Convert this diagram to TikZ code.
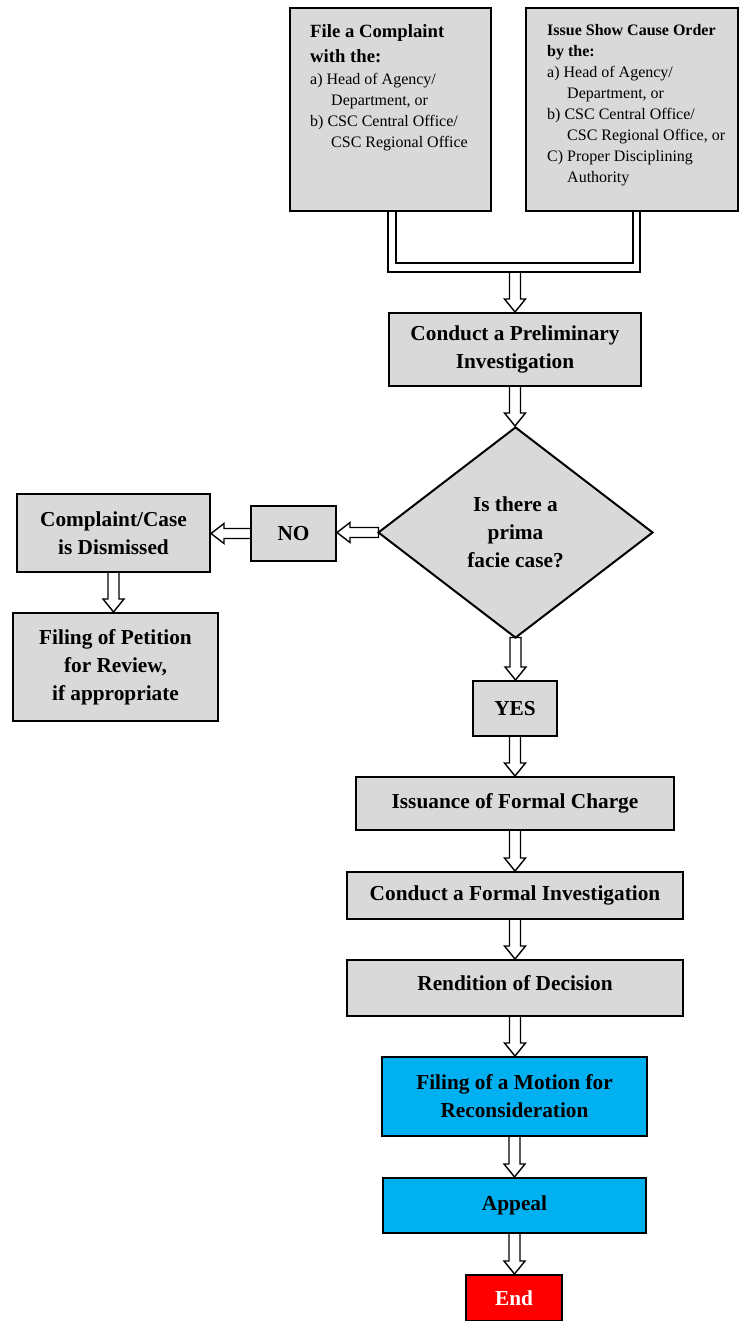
\documentclass[tikz,border=0pt]{standalone}
\usepackage{fontspec}
\setmainfont{Liberation Serif}
\usetikzlibrary{shapes.geometric,calc,backgrounds}
\definecolor{boxgray}{HTML}{D9D9D9}
\definecolor{boxblue}{HTML}{00B0F0}
\definecolor{boxred}{HTML}{FF0000}
\newcommand\blkdown[2]{%
  \draw[blkarrow] ($(#1)+(-5.5,-1.5)$) -- ($(#1|-#2)+(-5.5,-13)$) -- ($(#1|-#2)+(-10.5,-13)$) -- (#1|-#2) -- ($(#1|-#2)+(10.5,-13)$) -- ($(#1|-#2)+(5.5,-13)$) -- ($(#1)+(5.5,-1.5)$) -- cycle;}
\newcommand\blkleft[2]{%
  \draw[blkarrow] ($(#1)+(1.5,-5)$) -- ($(#2|-#1)+(13,-5)$) -- ($(#2|-#1)+(13,-10)$) -- (#2|-#1) -- ($(#2|-#1)+(13,10)$) -- ($(#2|-#1)+(13,5)$) -- ($(#1)+(1.5,5)$) -- cycle;}
\tikzset{
  box/.style={draw, line width=2pt, fill=boxgray, inner sep=0pt, align=center,
    font=\fontsize{21.3pt}{28pt}\selectfont\bfseries},
  dia/.style={box, shape=diamond, aspect=1.3},
  blkarrow/.style={draw, fill=white, line width=1.4pt, line join=miter},
  titletext/.style={anchor=north west, inner sep=0pt, align=left},
  listtext/.style={anchor=north west, inner sep=0pt, align=left,
    font=\fontsize{16pt}{21pt}\selectfont},
}
\begin{document}
\begin{tikzpicture}[x=1pt, y=-1pt]
\useasboundingbox (0,0) rectangle (739,1321);
% top boxes
\node[box, minimum width=201pt, minimum height=203pt] (c1) at (390.5,109.5) {};
\node[box, minimum width=212pt, minimum height=203pt] (c2) at (632,109.5) {};
\node[titletext, font=\fontsize{18.7pt}{25pt}\selectfont\bfseries] (c1t) at (310,24) {File a Complaint\\with the:};
\node[listtext] (c1l) at (310,73) {a) Head of Agency/\\\hspace*{21pt}Department, or\\b) CSC Central Office/\\\hspace*{21pt}CSC Regional Office};
\node[titletext, font=\fontsize{16pt}{21pt}\selectfont\bfseries] (c2t) at (547,24) {Issue Show Cause Order\\by the:};
\node[listtext] (c2l) at (547,66) {a) Head of Agency/\\\hspace*{20pt}Department, or\\b) CSC Central Office/\\\hspace*{20pt}CSC Regional Office, or\\C) Proper Disciplining\\\hspace*{20pt}Authority};
% main flow
\node[box, minimum width=252pt, minimum height=73pt] (prelim) at (515,349.5) {Conduct a Preliminary\\Investigation};
\node[dia, minimum width=275pt, minimum height=211pt] (dia) at (515.5,532.5) {Is there a\\prima\\facie case?};
\node[box, minimum width=85pt, minimum height=55pt] (no) at (293.5,533.5) {NO};
\node[box, minimum width=193pt, minimum height=78pt] (dism) at (113.5,533) {Complaint/Case\\is Dismissed};
\node[box, minimum width=205pt, minimum height=108pt] (pet) at (115.5,667) {Filing of Petition\\for Review,\\if appropriate};
\node[box, minimum width=84pt, minimum height=55pt] (yes) at (515,708.5) {YES};
\node[box, minimum width=318pt, minimum height=53pt] (iss) at (515,803.5) {Issuance of Formal Charge};
\node[box, minimum width=336pt, minimum height=47pt] (formal) at (515,895.5) {Conduct a Formal Investigation};
\node[box, minimum width=336pt, minimum height=56pt, text depth=10pt] (rend) at (515,988) {Rendition of Decision};
\node[box, fill=boxblue, minimum width=265pt, minimum height=79pt] (mot) at (514.5,1096.5) {Filing of a Motion for\\Reconsideration};
\node[box, fill=boxblue, minimum width=263pt, minimum height=55pt] (app) at (514.5,1205.5) {Appeal};
\node[box, fill=boxred, text=white, minimum width=96pt, minimum height=46pt] (end) at (514,1298) {End};
% connectors
\coordinate (jm) at ($(prelim.north|-c1.south)+(0,60)$);
\begin{scope}[on background layer]
\blkdown{jm}{prelim.north}
\draw[blkarrow] ($(c1.south)+(-2.5,-3)$) |- ($(c2.south)+(8,60)$) -- ($(c2.south)+(8,-3)$) -- ($(c2.south)+(1,-3)$) |- ($(c1.south)+(5.5,51)$) -- ($(c1.south)+(5.5,-3)$) -- cycle;
\blkdown{prelim.south}{dia.north}
\blkleft{dia.west}{no.east}
\blkleft{no.west}{dism.east}
\blkdown{dism.south}{pet.north}
\blkdown{dia.south}{yes.north}
\blkdown{yes.south}{iss.north}
\blkdown{iss.south}{formal.north}
\blkdown{formal.south}{rend.north}
\blkdown{rend.south}{mot.north}
\blkdown{mot.south}{app.north}
\blkdown{app.south}{end.north}
\end{scope}
\end{tikzpicture}
\end{document}
